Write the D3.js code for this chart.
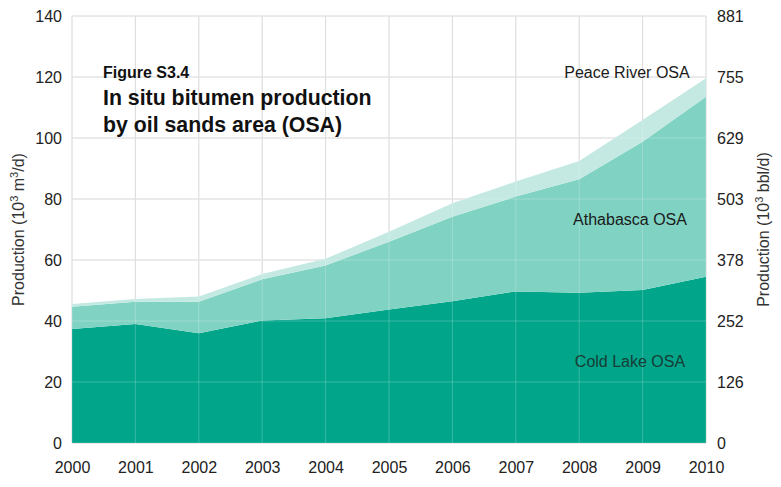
<!DOCTYPE html>
<html><head><meta charset="utf-8">
<script src="https://cdn.jsdelivr.net/npm/d3@7"></script>
<style>body{margin:0;background:#fff}svg{font-family:"Liberation Sans",Arial,sans-serif}</style>
</head><body><svg id="c" width="781" height="487"></svg>
<script>
const years = [2000,2001,2002,2003,2004,2005,2006,2007,2008,2009,2010];
const coldLake   = [37.4,39.0,36.0,40.2,40.9,43.8,46.5,49.7,49.3,50.2,54.5];
const athabasca  = [7.3,7.3,10.3,13.5,17.3,22.2,27.7,31.1,37.2,48.6,59.0];
const peaceRiver = [0.9,0.9,1.7,1.7,2.2,3.3,4.4,4.9,6.0,7.1,6.1];
const leftTicks  = [0,20,40,60,80,100,120,140];
const rightTicks = ["0","126","252","378","503","629","755","881"];
const seriesNames = ["Cold Lake OSA","Athabasca OSA","Peace River OSA"];
const colors = ["#00a58a","#80d2c3","#c3e9e2"];

const svg = d3.select("#c");
const L=72,R=706,T=16,B=443;
const x = d3.scaleLinear().domain([2000,2010]).range([L,R]);
const y = d3.scaleLinear().domain([0,140]).range([B,T]);

const table = years.map((yr,i)=>({year:yr,"Cold Lake OSA":coldLake[i],"Athabasca OSA":athabasca[i],"Peace River OSA":peaceRiver[i]}));
const stack = d3.stack().keys(seriesNames)(table);

function grid(g, stroke, op){
  g.selectAll("line.h").data(leftTicks).join("line").attr("class","h")
    .attr("x1",L).attr("x2",R).attr("y1",d=>y(d)).attr("y2",d=>y(d))
    .attr("stroke",stroke).attr("stroke-opacity",op).attr("stroke-width",1);
  g.selectAll("line.v").data(years).join("line").attr("class","v")
    .attr("x1",d=>x(d)).attr("x2",d=>x(d)).attr("y1",T).attr("y2",B)
    .attr("stroke",stroke).attr("stroke-opacity",op).attr("stroke-width",1);
}
grid(svg.append("g"),"#d2d2d2",1);

const area = d3.area().x(d=>x(d.data.year)).y0(d=>y(d[0])).y1(d=>y(d[1]));
svg.append("g").selectAll("path").data(stack).join("path")
  .attr("d",area).attr("fill",(d,i)=>colors[i]);

grid(svg.append("g"),"#ffffff",0.22);

// left axis
const yl = svg.append("g").attr("transform",`translate(${L},0)`)
  .call(d3.axisLeft(y).tickValues(leftTicks).tickSize(0).tickPadding(10));
yl.select(".domain").remove();
yl.selectAll("text").attr("font-size",16).attr("fill","#222").attr("font-family","Liberation Sans, Arial, sans-serif");

// right axis
const yr2 = svg.append("g").attr("transform",`translate(${R},0)`)
  .call(d3.axisRight(y).tickValues(leftTicks).tickFormat((d,i)=>rightTicks[i]).tickSize(0).tickPadding(11));
yr2.select(".domain").remove();
yr2.selectAll("text").attr("font-size",16).attr("fill","#222").attr("font-family","Liberation Sans, Arial, sans-serif");

// x axis
const xa = svg.append("g").attr("transform",`translate(0,${B})`)
  .call(d3.axisBottom(x).tickValues(years).tickFormat(d3.format("d")).tickSize(0).tickPadding(19));
xa.select(".domain").remove();
xa.selectAll("text").attr("font-size",16).attr("fill","#222").attr("font-family","Liberation Sans, Arial, sans-serif");

// axis titles
function ytitle(cx, unitParts){
  const t = svg.append("text").attr("transform",`translate(${cx},${(T+B)/2}) rotate(-90)`)
    .attr("text-anchor","middle").attr("font-size",16).attr("fill","#333");
  unitParts.forEach(p=>{
    const s=t.append("tspan").text(p[0]);
    if(p[1]) s.attr("font-size",11).attr("dy",-6);
    else if(p[2]) s.attr("dy",6);
  });
}
ytitle(24,[["Production (10"],["3",1],[" m",0,1],["3",1],["/d)",0,1]]);
ytitle(769,[["Production (10"],["3",1],[" bbl/d)",0,1]]);

// title
svg.append("text").attr("x",103).attr("y",78).attr("font-size",16).attr("font-weight","bold").attr("fill","#111").text("Figure S3.4");
svg.append("text").attr("x",103).attr("y",105).attr("font-size",21.3).attr("font-weight","bold").attr("fill","#111").text("In situ bitumen production");
svg.append("text").attr("x",103).attr("y",132).attr("font-size",21.3).attr("font-weight","bold").attr("fill","#111").text("by oil sands area (OSA)");

// series labels
const labelPos = [[630,367],[630,225],[627,78]];
svg.append("g").selectAll("text").data(seriesNames).join("text")
  .attr("x",(d,i)=>labelPos[i][0]).attr("y",(d,i)=>labelPos[i][1])
  .attr("text-anchor","middle").attr("font-size",16).attr("fill",(d,i)=>i==0?"#173d35":"#1a1a1a").text(d=>d);
</script></body></html>
